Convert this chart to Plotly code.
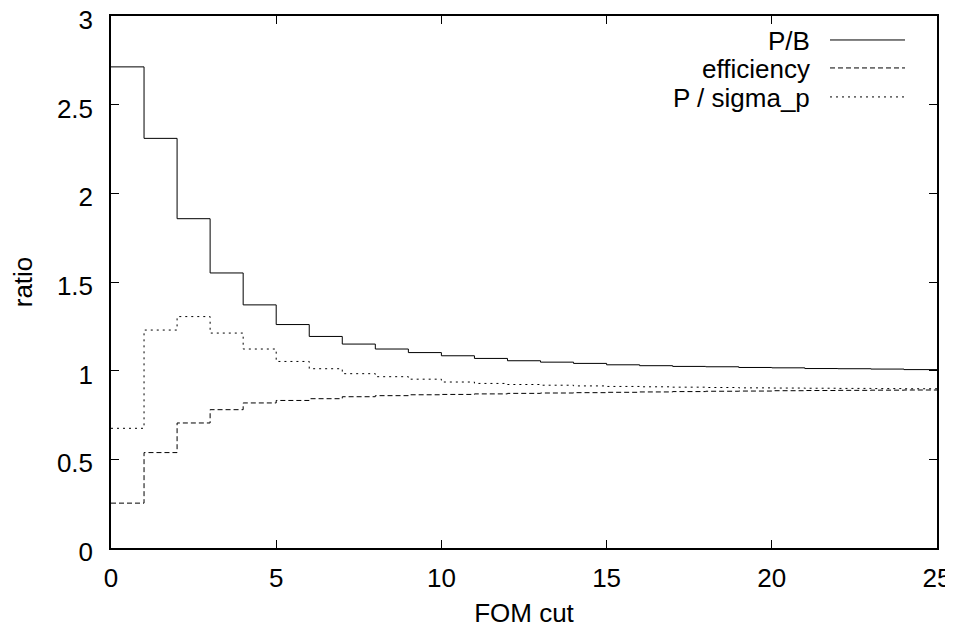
import plotly.graph_objects as go

# FOM cut bin edges 0..25 (step histogram, one value per unit bin)
fom_cut = list(range(0, 26))

pb = [2.713, 2.310, 1.857, 1.551, 1.371, 1.260, 1.193, 1.150, 1.122, 1.102,
      1.084, 1.069, 1.056, 1.048, 1.041, 1.033, 1.028, 1.024, 1.022, 1.018,
      1.016, 1.012, 1.011, 1.009, 1.006]

efficiency = [0.253, 0.538, 0.705, 0.780, 0.818, 0.832, 0.842, 0.853, 0.859, 0.864,
              0.866, 0.869, 0.872, 0.874, 0.876, 0.878, 0.880, 0.882, 0.884, 0.885,
              0.887, 0.888, 0.889, 0.890, 0.891]

p_sigma = [0.675, 1.229, 1.305, 1.212, 1.122, 1.052, 1.011, 0.983, 0.966, 0.952,
           0.936, 0.928, 0.922, 0.918, 0.914, 0.911, 0.909, 0.907, 0.905, 0.903,
           0.902, 0.901, 0.900, 0.899, 0.898]

series_names = ["P/B", "efficiency", "P / sigma_p"]
series_values = [pb, efficiency, p_sigma]
series_dash = ["solid", "5px,3px", "2px,4px"]

FONT = "Liberation Sans, Arial, sans-serif"
FS = 26

fig = go.Figure()
for name, vals, dash in zip(series_names, series_values, series_dash):
    fig.add_trace(go.Scatter(
        x=fom_cut, y=vals + [vals[-1]],
        mode="lines", line=dict(shape="hv", color="black", width=1, dash=dash),
        name=name, showlegend=False, hoverinfo="x+y",
    ))

# page body has an 8px margin, so the figure is drawn offset by 8px;
# size the figure so it ends at the window edge
OFF = 8
W, H = 953 - OFF, 628 - OFF
PL, PR, PT, PB = 111, 937, 16, 548.5   # plot area in window pixels
L, R, T, B = PL - OFF, (W + OFF) - PR, PT - OFF, (H + OFF) - PB
pw, ph = W - L - R, H - T - B

def px_x(px):
    return (px - OFF - L) / pw

def px_y(py):
    return 1 - (py - OFF - T) / ph

# gnuplot-style key: text right-aligned, line sample on the right
rows_y = [40, 68, 97]
for name, dash, ry in zip(series_names, series_dash, rows_y):
    fig.add_annotation(
        x=px_x(812), y=px_y(ry + 1), xref="paper", yref="paper",
        text=name, showarrow=False, xanchor="right", yanchor="middle",
        font=dict(family=FONT, size=FS, color="black"),
    )
    fig.add_shape(
        type="line", xref="paper", yref="paper",
        x0=px_x(830), x1=px_x(905), y0=px_y(ry), y1=px_y(ry),
        line=dict(color="black", width=1, dash=dash),
    )

axis_common = dict(
    showgrid=False, zeroline=False, showline=True, linecolor="black", linewidth=1.5,
    mirror="ticks", ticks="inside", ticklen=8, tickwidth=1, tickcolor="black",
    tickfont=dict(family=FONT, size=FS, color="black"), automargin=False,
    ticklabeloverflow="allow",
)

fig.update_layout(
    width=W, height=H,
    margin=dict(l=L, r=R, t=T, b=B),
    plot_bgcolor="white", paper_bgcolor="white",
    font=dict(family=FONT, size=FS, color="black"),
    xaxis=dict(range=[0, 25], dtick=5, tick0=0, ticklabelstandoff=6,
               title=dict(text="FOM cut", font=dict(family=FONT, size=FS), standoff=20),
               **axis_common),
    yaxis=dict(range=[0, 3], dtick=0.5, tick0=0, ticklabelstandoff=11,
               ticklabelshift=4,
               title=dict(text="ratio", font=dict(family=FONT, size=FS), standoff=22),
               **axis_common),
)

fig.write_html("out.html")
